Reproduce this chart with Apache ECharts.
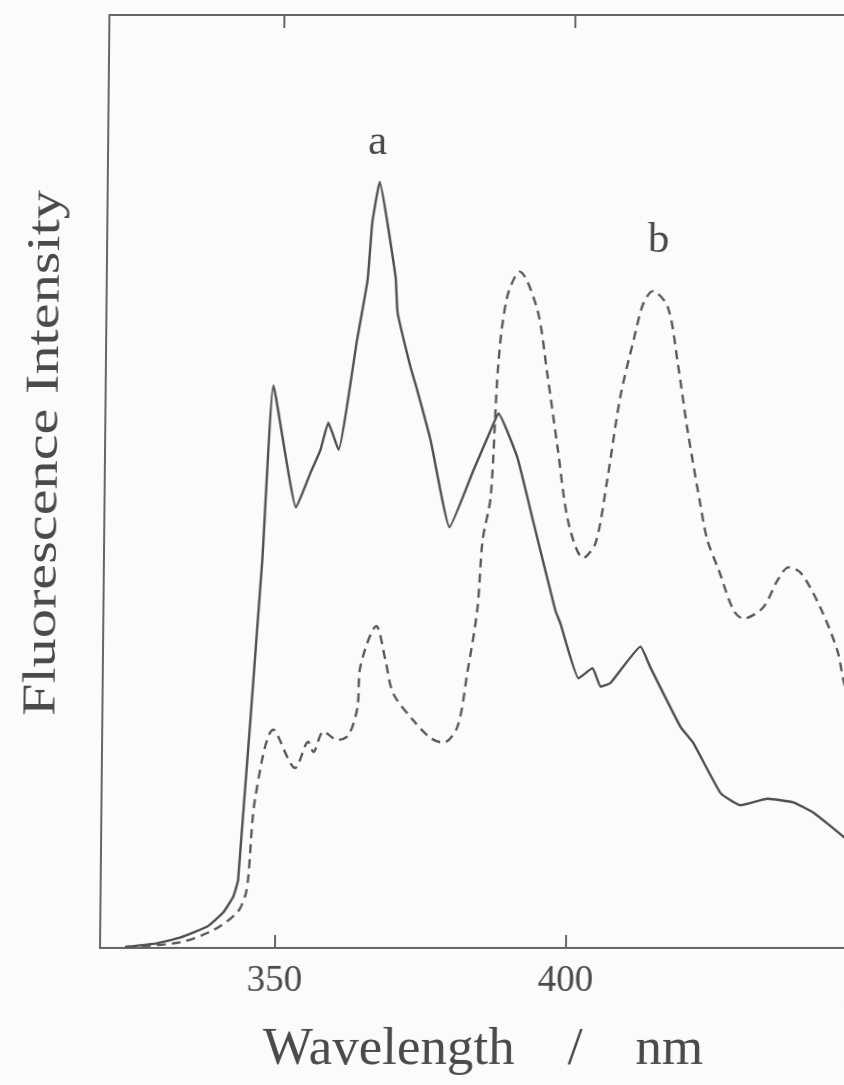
<!DOCTYPE html>
<html>
<head>
<meta charset="utf-8">
<script src="https://cdn.jsdelivr.net/npm/echarts@6/dist/echarts.min.js"></script>
<style>
  html, body { margin: 0; padding: 0; background: #fcfbfb; }
  /* the scanned figure leans slightly: its left axis is tilted */
  #chart { width: 844px; height: 1085px; transform: skewX(-0.58deg); transform-origin: 0 948px; }
</style>
</head>
<body>
<div id="chart"></div>
<script>
// curve a (solid)
const wavelengthA = [324.3, 329.8, 333.7, 338.4, 341.1, 342.8, 343.6, 347.2, 348.8, 352.9, 355.3, 357.0, 358.3, 360.1,
  363.1, 364.8, 365.5, 366.7, 369.6, 370.0, 372.3, 373.5, 375.9, 379.3, 383.3, 386.2, 387.5, 390.8, 393.7, 397.6,
  398.5, 401.7, 404.1, 405.5, 407.2, 412.3, 414.0, 419.3, 421.5, 426.3, 429.7, 434.4, 438.8, 442.3, 447.5, 450]
const intensityA = [0.1, 0.5, 1.1, 2.3, 3.8, 5.5, 7.3, 41.6, 60.3, 47.2, 50.9, 53.4, 56.3, 53.4,
  65.2, 71.6, 77.7, 82.1, 71.9, 68.1, 62.3, 59.8, 54.4, 45.1, 51.2, 55.5, 57.3, 52.6, 45.6, 36.2,
  34.8, 28.9, 30.0, 28.0, 28.4, 32.3, 30.1, 23.7, 22.0, 16.6, 15.3, 16.0, 15.6, 14.5, 11.9, 10.2]

// curve b (dashed)
const wavelengthB = [324.6, 333.7, 339.4, 343.5, 344.8, 345.3, 346.4, 349.4, 353.2, 355.4, 356.3, 358.0, 360.4, 362.3,
  363.8, 364.2, 366.9, 368.5, 369.9, 373.4, 376.4, 378.6, 381.0, 382.6, 384.2, 385.0, 386.3, 387.4, 388.8, 390.9,
  394.0, 395.8, 397.7, 399.7, 402.3, 404.4, 406.3, 408.4, 410.6, 412.2, 413.8, 416.4, 418.2, 420.0, 422.4, 423.6,
  425.6, 428.2, 429.9, 433.3, 435.7, 437.6, 439.7, 443.1, 446.1, 447.2, 450]
const intensityB = [0.1, 0.6, 1.9, 3.8, 5.5, 7.3, 16.1, 23.4, 19.3, 22.1, 21.0, 23.2, 22.3, 22.8,
  25.8, 30.1, 34.5, 30.9, 27.3, 24.4, 22.5, 22.0, 23.7, 29.5, 36.2, 43.7, 48.3, 62.7, 69.8, 72.5,
  68.4, 61.6, 53.7, 45.6, 41.8, 43.4, 50.2, 59.1, 65.2, 69.1, 70.4, 68.7, 62.7, 55.5, 47.3, 43.7,
  40.5, 36.2, 35.3, 36.5, 39.4, 40.8, 40.2, 36.5, 31.9, 28.7, 22.0]

const tickValues = [350, 400]
const curveLabels = ['a', 'b']
const labelAt = [[366.3, 86.3], [414.7, 75.8]]

const ink = '#4a4a4a'
const font = 'Liberation Serif'

const chart = echarts.init(document.getElementById('chart'))

const zip = (xs, ys) => xs.map((x, i) => [x, ys[i]])

const markLabel = (text, coord) => ({
  symbol: 'circle',
  symbolSize: 1,
  itemStyle: { color: 'transparent' },
  label: { show: true, position: 'inside', formatter: text, color: ink, fontFamily: font, fontSize: 43 },
  data: [{ coord: coord }]
})

const option = {
  backgroundColor: '#fcfbfb',
  animation: false,
  grid: { left: 100, right: -13, top: 15, bottom: 137, containLabel: false, outerBoundsMode: 'none' },
  xAxis: [
    {
      type: 'value',
      min: 320,
      max: 450,
      position: 'bottom',
      axisLine: { lineStyle: { color: '#666', width: 2 } },
      axisTick: { inside: true, length: 13, customValues: tickValues, lineStyle: { color: '#666', width: 2 } },
      axisLabel: { customValues: tickValues, margin: 15, color: ink, fontFamily: font, fontSize: 37 },
      splitLine: { show: false }
    },
    {
      type: 'value',
      min: 320,
      max: 450,
      position: 'top',
      axisLine: { lineStyle: { color: '#666', width: 2 } },
      axisTick: { inside: true, length: 13, customValues: tickValues, lineStyle: { color: '#666', width: 2 } },
      axisLabel: { show: false },
      splitLine: { show: false }
    }
  ],
  yAxis: {
    type: 'value',
    min: 0,
    max: 100,
    axisLine: { show: true, lineStyle: { color: '#666', width: 2 } },
    axisTick: { show: false },
    axisLabel: { show: false },
    splitLine: { show: false }
  },
  graphic: [
    {
      type: 'text',
      x: 484, y: 1050,
      style: { text: 'Wavelength    /    nm', fill: ink, font: '53px "Liberation Serif"', textAlign: 'center', textVerticalAlign: 'middle' }
    },
    {
      type: 'text',
      x: 40, y: 453,
      rotation: Math.PI / 2,
      scaleX: 1.24,
      style: { text: 'Fluorescence Intensity', fill: ink, font: '47px "Liberation Serif"', textAlign: 'center', textVerticalAlign: 'middle' }
    }
  ],
  series: [
    {
      name: 'a',
      type: 'line',
      data: zip(wavelengthA, intensityA),
      showSymbol: false,
      smooth: 0.12,
      lineStyle: { color: '#505050', width: 2.4 },
      markPoint: markLabel(curveLabels[0], labelAt[0])
    },
    {
      name: 'b',
      type: 'line',
      data: zip(wavelengthB, intensityB),
      showSymbol: false,
      smooth: 0.3,
      lineStyle: { color: '#5a5a5a', width: 2.4, type: [9, 6] },
      markPoint: markLabel(curveLabels[1], labelAt[1])
    }
  ]
}

chart.setOption(option)
</script>
</body>
</html>
